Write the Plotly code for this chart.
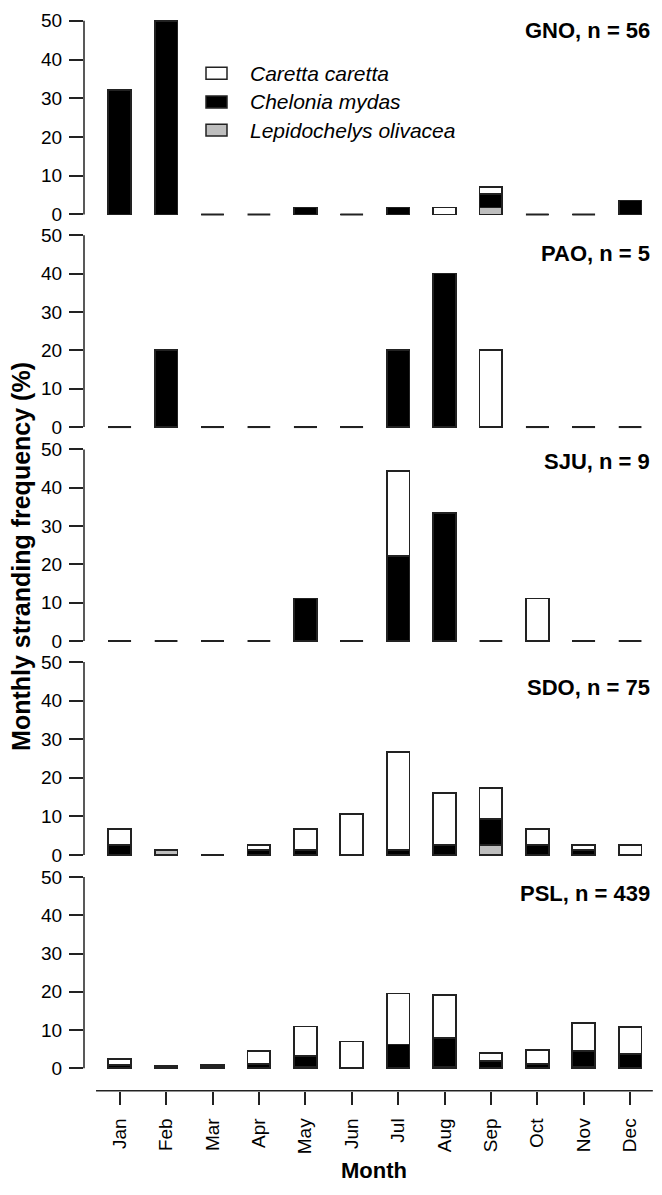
import plotly.graph_objects as go

months = ["Jan", "Feb", "Mar", "Apr", "May", "Jun", "Jul", "Aug", "Sep", "Oct", "Nov", "Dec"]
sites = ["GNO", "PAO", "SJU", "SDO", "PSL"]
site_n = [56, 5, 9, 75, 439]
species = ["Caretta caretta", "Chelonia mydas", "Lepidochelys olivacea"]

# Monthly stranding frequency (%) by species, per site
gno_caretta = [0, 0, 0, 0, 0, 0, 0, 1.79, 1.79, 0, 0, 0]
gno_chelonia = [32.14, 50, 0, 0, 1.79, 0, 1.79, 0, 3.57, 0, 0, 3.57]
gno_lepido = [0, 0, 0, 0, 0, 0, 0, 0, 1.79, 0, 0, 0]

pao_caretta = [0, 0, 0, 0, 0, 0, 0, 0, 20, 0, 0, 0]
pao_chelonia = [0, 20, 0, 0, 0, 0, 20, 40, 0, 0, 0, 0]
pao_lepido = [0, 0, 0, 0, 0, 0, 0, 0, 0, 0, 0, 0]

sju_caretta = [0, 0, 0, 0, 0, 0, 22.22, 0, 0, 11.11, 0, 0]
sju_chelonia = [0, 0, 0, 0, 11.11, 0, 22.22, 33.33, 0, 0, 0, 0]
sju_lepido = [0, 0, 0, 0, 0, 0, 0, 0, 0, 0, 0, 0]

sdo_caretta = [4.0, 0, 0, 1.33, 5.33, 10.67, 25.33, 13.33, 8.0, 4.0, 1.33, 2.67]
sdo_chelonia = [2.67, 0, 0, 1.33, 1.33, 0, 1.33, 2.67, 6.67, 2.67, 1.33, 0]
sdo_lepido = [0, 1.33, 0, 0, 0, 0, 0, 0, 2.67, 0, 0, 0]

psl_caretta = [1.59, 0, 0, 3.3, 7.7, 6.8, 13.4, 11.4, 2.1, 3.6, 7.3, 6.9]
psl_chelonia = [0.91, 0, 0.46, 1.14, 2.8, 0.23, 6.2, 7.4, 1.6, 1.14, 4.1, 3.6]
psl_lepido = [0, 0.68, 0.46, 0, 0.46, 0, 0, 0.46, 0.23, 0, 0.46, 0.23]

y_ticks = [0, 10, 20, 30, 40, 50]

site_data = [
    (gno_caretta, gno_chelonia, gno_lepido),
    (pao_caretta, pao_chelonia, pao_lepido),
    (sju_caretta, sju_chelonia, sju_lepido),
    (sdo_caretta, sdo_chelonia, sdo_lepido),
    (psl_caretta, psl_chelonia, psl_lepido),
]

# ---- layout geometry (pixels) ----
W, H = 662, 1195
panel_top = [15, 231.7, 448.3, 663.3, 880.7]      # pixel of value 50
panel_bot = [210.7, 425.7, 642.0, 858.3, 1074.0]  # pixel of value 0
label_y = [25, 250, 461, 689, 897]
axis_px = 84.0
first_bar_px = 119.7
bar_step_px = 46.4
bar_w = 0.49
xaxis_line_px = 1096.7

FONT = "Liberation Sans, Arial, sans-serif"
INK = "#222222"
fills = {"Caretta caretta": "#ffffff", "Chelonia mydas": "#000000", "Lepidochelys olivacea": "#bebebe"}

x_r0 = 1 - (first_bar_px - axis_px) / bar_step_px
x_r1 = x_r0 + (660 - axis_px) / bar_step_px
xs = list(range(1, 13))

def py(p):
    return 1 - p / H

fig = go.Figure()
layout = dict(
    width=W, height=H, margin=dict(l=0, r=0, t=0, b=0),
    paper_bgcolor="white", plot_bgcolor="white",
    barmode="stack", showlegend=False,
    font=dict(family=FONT, color="#000"),
)

shapes = []
annotations = []
pad = 1.0
for i, (site, n, (car, che, lep)) in enumerate(zip(sites, site_n, site_data)):
    yname = "y" if i == 0 else f"y{i+1}"
    key = "yaxis" if i == 0 else f"yaxis{i+1}"
    k = (panel_bot[i] - panel_top[i]) / 50.0
    d0 = py(panel_bot[i] + pad * k)
    d1 = py(panel_top[i] - pad * k)
    layout[key] = dict(
        domain=[d0, d1], range=[-pad, 50 + pad], anchor="x",
        tickvals=y_ticks, ticktext=[str(v) for v in y_ticks],
        ticks="outside", ticklen=14, tickwidth=1.5, tickcolor=INK,
        showline=False, showgrid=False, zeroline=False,
        tickfont=dict(size=19, family=FONT, color="#000"),
        ticklabelstandoff=3,
    )
    for vals, sp in ((lep, "Lepidochelys olivacea"), (che, "Chelonia mydas"), (car, "Caretta caretta")):
        fig.add_trace(go.Bar(
            x=xs, y=vals, width=bar_w, xaxis="x", yaxis=yname, name=sp,
            marker=dict(color=fills[sp], line=dict(color=INK, width=1.7)),
        ))
    # zero-height months drawn as flat outline
    zx, zy = [], []
    for m, a, b, c in zip(xs, car, che, lep):
        if a + b + c == 0:
            zx += [m - bar_w / 2, m + bar_w / 2, None]
            zy += [0, 0, None]
    if zx:
        fig.add_trace(go.Scatter(x=zx, y=zy, mode="lines", xaxis="x", yaxis=yname,
                                 line=dict(color=INK, width=2), hoverinfo="skip"))
    # R-style y axis line from 0 to 50
    shapes.append(dict(type="line", xref="paper", yref=yname, x0=axis_px / W, x1=axis_px / W,
                       y0=0, y1=50, line=dict(color=INK, width=1.5)))
    annotations.append(dict(text=f"<b>{site}, n = {n}</b>", xref="paper", yref="paper",
                            x=652 / W, y=py(label_y[i]), xanchor="right", yanchor="middle",
                            showarrow=False, font=dict(size=22, family=FONT, color="#000")))

layout["xaxis"] = dict(
    domain=[axis_px / W, 660 / W], range=[x_r0, x_r1],
    anchor="free", position=py(xaxis_line_px),
    tickvals=xs, ticktext=months, tickangle=-90,
    ticks="outside", ticklen=13, tickwidth=1.5, tickcolor=INK,
    showline=False, showgrid=False, zeroline=False,
    tickfont=dict(size=19, family=FONT, color="#000"), ticklabelstandoff=6,
)
# bottom axis line
shapes.append(dict(type="line", xref="x", yref="paper", x0=0.49, x1=12.49,
                   y0=py(xaxis_line_px), y1=py(xaxis_line_px), line=dict(color=INK, width=1.5)))

# legend
leg_y = [68, 97, 125.5]
for sp, yy in zip(species, leg_y):
    shapes.append(dict(type="rect", xref="paper", yref="paper",
                       x0=206 / W, x1=227 / W, y0=py(yy + 6), y1=py(yy - 6),
                       fillcolor=fills[sp], line=dict(color=INK, width=1.5)))
    annotations.append(dict(text=f"<i>{sp}</i>", xref="paper", yref="paper",
                            x=248 / W, y=py(yy), xanchor="left", yanchor="middle",
                            showarrow=False, font=dict(size=21, family=FONT, color="#000")))

annotations.append(dict(text="<b>Month</b>", xref="paper", yref="paper", x=374 / W, y=py(1177),
                        xanchor="center", yanchor="middle", showarrow=False,
                        font=dict(size=22, family=FONT, color="#000")))
annotations.append(dict(text="<b>Monthly stranding frequency (%)</b>", xref="paper", yref="paper",
                        x=21 / W, y=py(557), xanchor="center", yanchor="middle", textangle=-90,
                        showarrow=False, font=dict(size=25, family=FONT, color="#000")))

layout["shapes"] = shapes
layout["annotations"] = annotations
fig.update_layout(**layout)
fig.write_html("out.html", config={"displayModeBar": False},
               post_script="document.body.style.margin='0px';document.body.style.padding='0px';")
